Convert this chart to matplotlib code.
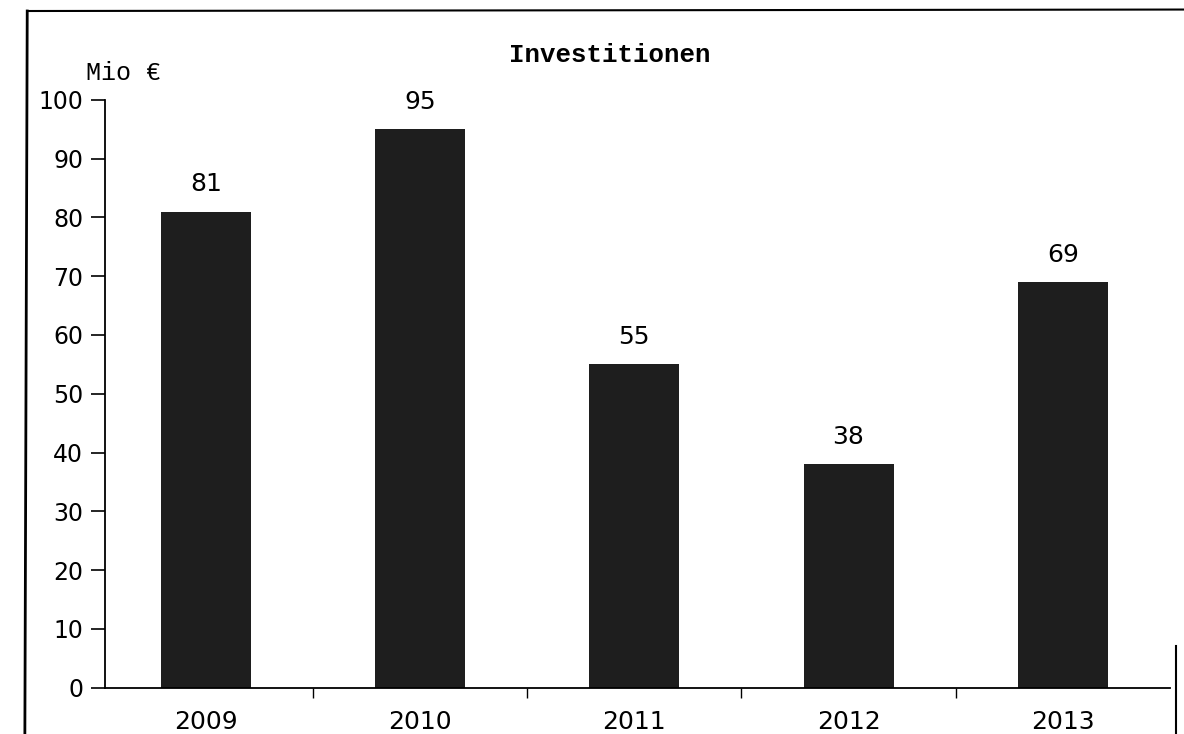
import matplotlib
matplotlib.use('Agg')
import matplotlib.pyplot as plt
from matplotlib.lines import Line2D

# Daten
jahre = ['2009', '2010', '2011', '2012', '2013']
investitionen = [81, 95, 55, 38, 69]
y_ticks = [0, 10, 20, 30, 40, 50, 60, 70, 80, 90, 100]

fig = plt.figure(figsize=(11.84, 7.34), dpi=100)
ax = fig.add_axes([0.089, 0.063, 0.899, 0.801])

x = list(range(len(jahre)))
ax.bar(x, investitionen, width=0.42, color='#1e1e1e', zorder=2)

# Werte über den Balken
for xi, v in zip(x, investitionen):
    ax.text(xi, v + 4.6, str(v), ha='center', va='center', fontsize=18,
            family='DejaVu Sans')

ax.set_xlim(-0.47, 4.5)
ax.set_ylim(0, 100)

ax.set_yticks(y_ticks)
ax.set_yticklabels([str(t) for t in y_ticks], fontsize=17)
ax.tick_params(axis='y', direction='out', length=10, width=1.2, pad=6)

# x-Ticks zwischen den Kategorien, Beschriftung in der Mitte
ax.set_xticks([i + 0.5 for i in x[:-1]])
ax.set_xticklabels([])
ax.set_xticks(x, minor=True)
ax.set_xticklabels(jahre, minor=True, fontsize=18)
ax.tick_params(axis='x', which='major', direction='out', length=7, width=1)
ax.tick_params(axis='x', which='minor', length=0, pad=16)

for s in ['top', 'right']:
    ax.spines[s].set_visible(False)
ax.spines['left'].set_linewidth(1.3)
ax.spines['bottom'].set_linewidth(1.3)

fig.text(0.073, 0.9, 'Mio €', fontsize=18, family='Liberation Mono',
         ha='left', va='center')
fig.text(0.515, 0.925, 'Investitionen', fontsize=18.5, family='Liberation Mono',
         fontweight='bold', ha='center', va='center')

# Rahmen des Scans
fig.add_artist(Line2D([0.023, 0.021], [0.985, 0.0], color='black', lw=2))
fig.add_artist(Line2D([0.023, 1.0], [0.985, 0.987], color='black', lw=1.5))
fig.add_artist(Line2D([0.993, 0.993], [0.0, 0.12], color='black', lw=1.5))

fig.savefig('out.png', dpi=100)
